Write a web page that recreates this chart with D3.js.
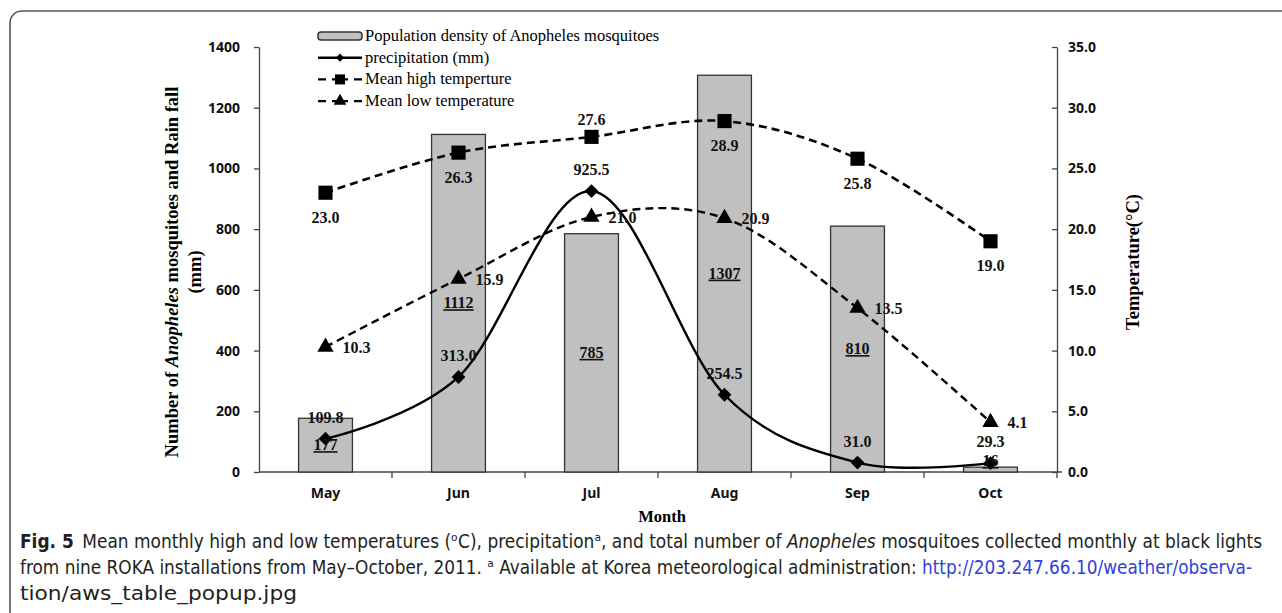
<!DOCTYPE html>
<html>
<head>
<meta charset="utf-8">
<script src="https://cdn.jsdelivr.net/npm/d3@7"></script>
<style>
  body { margin: 0; background: #fff; }
  svg { display: block; }
  .serif { font-family: "Liberation Serif", "Times New Roman", serif; }
  .axis text { font-family: "Noto Sans", "DejaVu Sans", sans-serif; font-weight: bold; font-size: 14px; fill: #111; }
  .axis path, .axis line { stroke: #444; stroke-width: 1.3; }
  .caption { font-family: "Liberation Sans Narrow", "DejaVu Sans Condensed", "Noto Sans", sans-serif; font-size: 19.5px; fill: #231f20; }
</style>
</head>
<body>
<div id="chart"></div>
<script>

// Data
const months        = ["May", "Jun", "Jul", "Aug", "Sep", "Oct"];
const mosquitoes    = [177, 1112, 785, 1307, 810, 16];
const precipitation = [109.8, 313.0, 925.5, 254.5, 31.0, 29.3];
const highTemp      = [23.0, 26.3, 27.6, 28.9, 25.8, 19.0];
const lowTemp       = [10.3, 15.9, 21.0, 20.9, 13.5, 4.1];
const leftTicks     = [0, 200, 400, 600, 800, 1000, 1200, 1400];
const rightTicks    = [0, 5, 10, 15, 20, 25, 30, 35];
// where the high temperature labels sit relative to the marker
const highLabelSide = ["below", "below", "above", "below", "below", "below"];

class ComboChart {

    constructor(el) {
        this.width = 1282;
        this.height = 613;
        this.plot = {left: 259, right: 1057, top: 47, bottom: 472};

        this.svg = d3.select(el).append("svg")
            .attr("width", this.width)
            .attr("height", this.height);

        this.setScales();
        this.drawFrame();
        this.drawAxes();
        this.drawBars();
        this.drawLines();
        this.drawLabels();
        this.drawLegend();
        this.drawCaption();
    }

    setScales() {
        let p = this.plot;
        this.x = d3.scaleBand().domain(months).range([p.left, p.right]);
        this.y = d3.scaleLinear().domain([0, 1400]).range([p.bottom, p.top]);
        this.yT = d3.scaleLinear().domain([0, 35]).range([p.bottom, p.top]);
        this.cx = m => this.x(m) + this.x.bandwidth() / 2;
    }

    drawFrame() {
        this.svg.append("path")
            .attr("d", "M10," + this.height + " V23 A12,12 0 0 1 22,11 H" + this.width)
            .attr("fill", "none")
            .attr("stroke", "#555")
            .attr("stroke-width", 1.6);
    }

    drawAxes() {
        let svg = this.svg, p = this.plot;

        // Bottom axis: ticks sit on the category boundaries
        let xb = svg.append("g")
            .attr("class", "axis")
            .attr("transform", "translate(0," + p.bottom + ")")
            .call(d3.axisBottom(this.x).tickSize(0).tickPadding(16));
        xb.select(".domain").remove();
        xb.append("line")
            .attr("x1", p.left).attr("x2", p.right + 5)
            .attr("stroke", "#444").attr("stroke-width", 1.3);
        xb.selectAll("line.bound")
            .data(months.slice(1).concat(["end"]))
            .enter().append("line")
            .attr("class", "bound")
            .attr("x1", (d, i) => this.x(months[0]) + (i + 1) * this.x.bandwidth())
            .attr("x2", (d, i) => this.x(months[0]) + (i + 1) * this.x.bandwidth())
            .attr("y1", 0).attr("y2", 6)
            .attr("stroke", "#444").attr("stroke-width", 1.3);

        svg.append("g")
            .attr("class", "axis")
            .attr("transform", "translate(" + p.left + ",0)")
            .call(d3.axisLeft(this.y).tickValues(leftTicks).tickSizeOuter(0)
                .tickSizeInner(5).tickPadding(14).tickFormat(d3.format("d")));

        svg.append("g")
            .attr("class", "axis")
            .attr("transform", "translate(" + p.right + ",0)")
            .call(d3.axisRight(this.yT).tickValues(rightTicks).tickSizeOuter(0)
                .tickSizeInner(-5).tickPadding(11).tickFormat(d3.format(".1f")));

        // Axis titles
        let lt = svg.append("text")
            .attr("class", "serif")
            .attr("transform", "translate(178," + 272 + ") rotate(-90)")
            .attr("text-anchor", "middle")
            .attr("font-weight", "bold").attr("font-size", 18.5);
        lt.append("tspan").text("Number of ");
        lt.append("tspan").attr("font-style", "italic").text("Anopheles");
        lt.append("tspan").text(" mosquitoes and Rain fall");

        svg.append("text")
            .attr("class", "serif")
            .attr("transform", "translate(201," + 272 + ") rotate(-90)")
            .attr("text-anchor", "middle")
            .attr("font-weight", "bold").attr("font-size", 18.5)
            .text("(mm)");

        svg.append("text")
            .attr("class", "serif")
            .attr("transform", "translate(1139,262) rotate(-90)")
            .attr("text-anchor", "middle")
            .attr("font-weight", "bold").attr("font-size", 18.5)
            .text("Temperature(\u00B0C)");

        svg.append("text")
            .attr("class", "serif")
            .attr("x", (p.left + p.right) / 2 + 4).attr("y", 522)
            .attr("text-anchor", "middle")
            .attr("font-weight", "bold").attr("font-size", 16.5)
            .text("Month");
    }

    drawBars() {
        let bw = this.x.bandwidth() * 0.405;
        this.svg.append("g").selectAll("rect")
            .data(mosquitoes)
            .enter().append("rect")
            .attr("x", (d, i) => this.cx(months[i]) - bw / 2)
            .attr("y", d => this.y(d))
            .attr("width", bw)
            .attr("height", d => this.y(0) - this.y(d))
            .attr("fill", "#c0c0c0")
            .attr("stroke", "#333")
            .attr("stroke-width", 1.3);
    }

    drawLines() {
        let svg = this.svg;
        let curve = d3.curveCardinal.tension(0);

        let series = [
            {values: lowTemp,       scale: this.yT, dash: "8,5", width: 2.4, symbol: d3.symbolTriangle, size: 115, rot: 0},
            {values: highTemp,      scale: this.yT, dash: "8,5", width: 2.6, symbol: d3.symbolSquare,   size: 200, rot: 0},
            {values: precipitation, scale: this.y,  dash: null,  width: 2.4, symbol: d3.symbolSquare,   size: 95,  rot: 45}
        ];

        series.forEach(s => {
            let line = d3.line()
                .x((d, i) => this.cx(months[i]))
                .y(d => s.scale(d))
                .curve(curve);

            svg.append("path")
                .attr("d", line(s.values))
                .attr("fill", "none")
                .attr("stroke", "#000")
                .attr("stroke-width", s.width)
                .attr("stroke-dasharray", s.dash);

            svg.append("g").selectAll("path")
                .data(s.values)
                .enter().append("path")
                .attr("d", d3.symbol().type(s.symbol).size(s.size))
                .attr("transform", (d, i) => "translate(" + this.cx(months[i]) + "," + s.scale(d) + ") rotate(" + s.rot + ")")
                .attr("fill", "#000");
        });
    }

    drawLabels() {
        let g = this.svg.append("g")
            .attr("class", "serif")
            .attr("font-weight", "bold")
            .attr("font-size", 16)
            .attr("fill", "#111");
        let y0 = this.y(0);

        // bar counts, underlined, in the middle of each bar
        g.selectAll("text.count")
            .data(mosquitoes)
            .enter().append("text")
            .attr("class", "count")
            .attr("x", (d, i) => this.cx(months[i]))
            .attr("y", d => Math.min((this.y(d) + y0) / 2, y0 - 11) + 5)
            .attr("text-anchor", "middle")
            .attr("text-decoration", "underline")
            .text(d => d);

        g.selectAll("text.prec")
            .data(precipitation)
            .enter().append("text")
            .attr("x", (d, i) => this.cx(months[i]))
            .attr("y", d => this.y(d) - 16)
            .attr("text-anchor", "middle")
            .text(d => d.toFixed(1));

        g.selectAll("text.high")
            .data(highTemp)
            .enter().append("text")
            .attr("x", (d, i) => this.cx(months[i]))
            .attr("y", (d, i) => this.yT(d) + (highLabelSide[i] == "above" ? -12 : 30))
            .attr("text-anchor", "middle")
            .text(d => d.toFixed(1));

        g.selectAll("text.low")
            .data(lowTemp)
            .enter().append("text")
            .attr("x", (d, i) => this.cx(months[i]) + 17)
            .attr("y", d => this.yT(d) + 6)
            .text(d => d.toFixed(1));
    }

    drawLegend() {
        let items = [
            {label: "Population density of Anopheles mosquitoes", kind: "bar"},
            {label: "precipitation (mm)", kind: "solid", symbol: d3.symbolSquare, size: 34, rot: 45},
            {label: "Mean high temperture", kind: "dash", symbol: d3.symbolSquare, size: 100, rot: 0},
            {label: "Mean low temperature", kind: "dash", symbol: d3.symbolTriangle, size: 70, rot: 0}
        ];
        let x0 = 318, x1 = 362, top = 36, step = 21.7;

        let g = this.svg.append("g");
        items.forEach((it, i) => {
            let yy = top + i * step;
            if (it.kind == "bar") {
                g.append("rect")
                    .attr("x", x0).attr("y", yy - 4)
                    .attr("width", x1 - x0).attr("height", 8)
                    .attr("rx", 3)
                    .attr("fill", "#c0c0c0").attr("stroke", "#333").attr("stroke-width", 1.5);
            } else {
                g.append("line")
                    .attr("x1", x0).attr("x2", x1).attr("y1", yy).attr("y2", yy)
                    .attr("stroke", "#000").attr("stroke-width", 2.4)
                    .attr("stroke-dasharray", it.kind == "dash" ? "8,6,16,6,8" : null);
                g.append("path")
                    .attr("d", d3.symbol().type(it.symbol).size(it.size))
                    .attr("transform", "translate(" + (x0 + x1) / 2 + "," + yy + ") rotate(" + it.rot + ")")
                    .attr("fill", "#000");
            }
            g.append("text")
                .attr("class", "serif")
                .attr("x", x1 + 3).attr("y", yy + 5)
                .attr("font-size", 16.5)
                .attr("fill", "#000")
                .text(it.label);
        });
    }

    drawCaption() {
        let svg = this.svg;
        let blue = "#2f3fe0";

        // superscripts use the modifier letters so they stay on one baseline
        let l1 = svg.append("text").attr("class", "caption")
            .attr("x", 20).attr("y", 548)
            .attr("textLength", 1242).attr("lengthAdjust", "spacingAndGlyphs");
        l1.append("tspan").attr("font-weight", "bold").text("Fig. 5");
        l1.append("tspan").text("\u2002Mean monthly high and low temperatures (\u1D52C), precipitation\u1D43, and total number of ");
        l1.append("tspan").attr("font-style", "italic").text("Anopheles");
        l1.append("tspan").text(" mosquitoes collected monthly at black lights");

        let l2 = svg.append("text").attr("class", "caption")
            .attr("x", 20).attr("y", 574)
            .attr("textLength", 1232).attr("lengthAdjust", "spacingAndGlyphs");
        l2.append("tspan").text("from nine ROKA installations from May\u2013October, 2011. \u1D43 Available at Korea meteorological administration: ");
        l2.append("tspan").attr("fill", blue).text("http://203.247.66.10/weather/observa-");

        svg.append("text").attr("class", "caption")
            .attr("x", 20).attr("y", 600)
            .attr("textLength", 277).attr("lengthAdjust", "spacingAndGlyphs")
            .attr("fill", blue)
            .text("tion/aws_table_popup.jpg");
    }
}

new ComboChart("#chart");

</script>
</body>
</html>
